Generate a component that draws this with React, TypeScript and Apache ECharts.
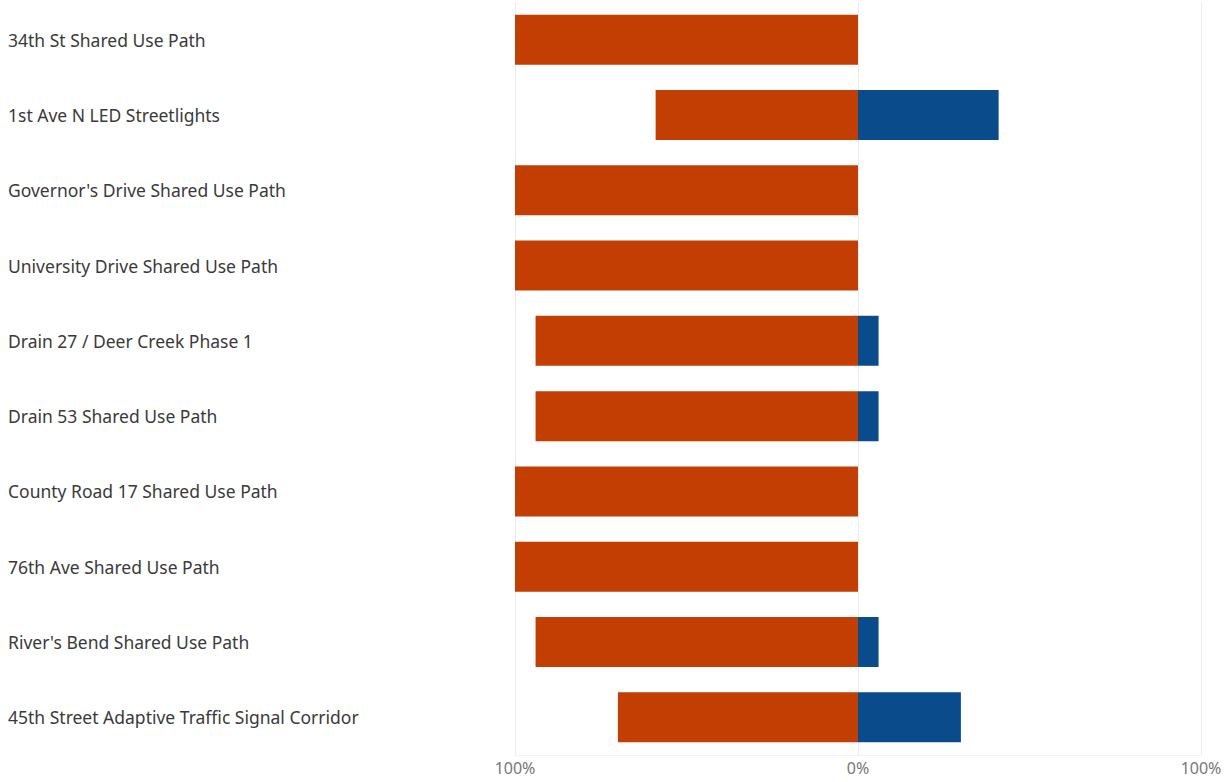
import React, { useEffect, useRef } from "react";
import * as echarts from "echarts";

const categories = [
  "34th St Shared Use Path",
  "1st Ave N LED Streetlights",
  "Governor's Drive Shared Use Path",
  "University Drive Shared Use Path",
  "Drain 27 / Deer Creek Phase 1",
  "Drain 53 Shared Use Path",
  "County Road 17 Shared Use Path",
  "76th Ave Shared Use Path",
  "River's Bend Shared Use Path",
  "45th Street Adaptive Traffic Signal Corridor",
];
const negativeValues = [-100, -59, -100, -100, -94, -94, -100, -100, -94, -70];
const positiveValues = [0, 41, 0, 0, 6, 6, 0, 0, 6, 30];
const xTicks = [-100, 0, 100];

export default function App() {
  const ref = useRef<HTMLDivElement>(null);
  useEffect(() => {
    document.body.style.margin = "0";
    const chart = echarts.init(ref.current!, null, { renderer: "svg" });
    chart.setOption({
      animation: false,
      grid: { left: 515, right: 28, top: 2, bottom: 27, containLabel: false },
      xAxis: {
        type: "value",
        min: xTicks[0],
        max: xTicks[xTicks.length - 1],
        interval: 100,
        axisLabel: {
          formatter: (v: number) => Math.abs(v) + "%",
          color: "#777",
          fontSize: 16,
          fontFamily: "Noto Sans",
          margin: 5,
        },
        axisLine: { show: true, lineStyle: { color: "#f2f2f2" } },
        axisTick: { show: false },
        splitLine: { show: true, lineStyle: { color: "#ececec" } },
      },
      yAxis: {
        type: "category",
        data: categories,
        inverse: true,
        axisLine: { show: false },
        axisTick: { show: false },
        axisLabel: {
          align: "left",
          margin: 507,
          color: "#3a3a3a",
          fontSize: 17.5,
          fontFamily: "Noto Sans",
        },
      },
      series: [
        {
          type: "bar",
          stack: "total",
          data: negativeValues,
          barWidth: 50,
          itemStyle: { color: "#C23E02" },
        },
        {
          type: "bar",
          stack: "total",
          data: positiveValues,
          barWidth: 50,
          itemStyle: { color: "#0A4B8C" },
        },
      ],
    });
    return () => chart.dispose();
  }, []);
  return <div ref={ref} style={{ width: 1229, height: 782 }} />;
}
